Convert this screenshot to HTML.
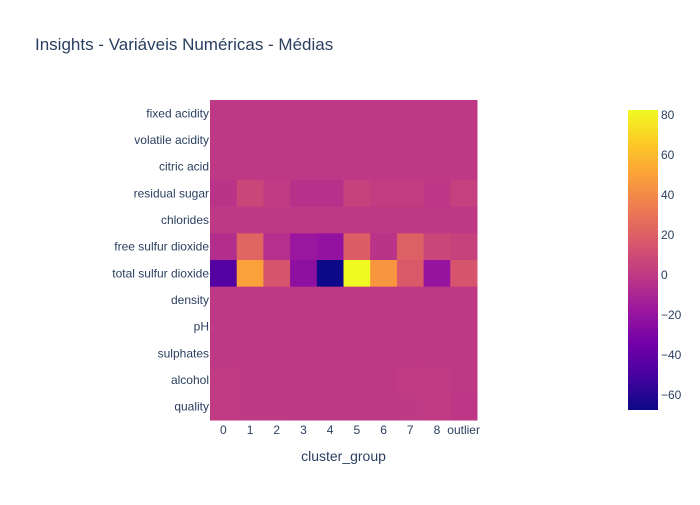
<!DOCTYPE html>
<html><head><meta charset="utf-8"><style>
body{margin:0;background:#fff;font-family:"Liberation Sans",sans-serif}
</style></head><body>
<svg id="c" width="700" height="500" xmlns="http://www.w3.org/2000/svg" style="font-family:'Liberation Sans',sans-serif">
<text x="35" y="50" font-size="17" fill="#2a3f5f">Insights - Variáveis Numéricas - Médias</text>
<text x="343.5" y="461" font-size="14" fill="#2a3f5f" text-anchor="middle">cluster_group</text>
<g id="cells"></g><g id="ylab"></g><g id="xlab"></g>
<defs><linearGradient id="grad" x1="0" y1="1" x2="0" y2="0"></linearGradient></defs>
<rect x="628" y="110" width="30" height="300" fill="url(#grad)"/>
<g id="cbt"></g>
</svg>
<script>
const rows=["fixed acidity","volatile acidity","citric acid","residual sugar","chlorides","free sulfur dioxide","total sulfur dioxide","density","pH","sulphates","alcohol","quality"];
const cols=["0","1","2","3","4","5","6","7","8","outlier"];
const values=[
[0,0,0,0,0,0,0,0,0,0],
[0,0,0,0,0,0,0,0,0,0],
[0,0,0,0,0,0,0,0,0,0],
[-3,7,1,-4,-4,5,2,2,-1,4],
[0,0,0,0,0,0,0,0,0,0],
[-6,22,-5,-18,-21,19,-3,20,7,5],
[-45,50,15,-23,-67.5,82.5,45,17,-20,15],
[0,0,0,0,0,0,0,0,0,0],
[0,0,0,0,0,0,0,0,0,0],
[0,0,0,0,0,0,0,0,0,0],
[1,0.5,0,0.5,0.5,0,0,1,1,0],
[1,0.5,0.5,0,0,0,0,0.5,1,-1]];
const cbTicks=[80,60,40,20,0,-20,-40,-60];
const zmin=-67.5,zmax=82.5;
const plasma=["#0d0887","#46039f","#7201a8","#9c179e","#bd3786","#d8576b","#ed7953","#fb9f3a","#fdca26","#f0f921"];
function hex(h){return [1,3,5].map(i=>parseInt(h.substr(i,2),16));}
function color(v){let t=(v-zmin)/(zmax-zmin);t=Math.max(0,Math.min(1,t))*(plasma.length-1);let i=Math.min(Math.floor(t),plasma.length-2),f=t-i;const a=hex(plasma[i]),b=hex(plasma[i+1]);return `rgb(${a.map((x,k)=>Math.round(x+(b[k]-x)*f)).join(',')})`;}
const X0=210,X1=477,Y0=100,Y1=420;
const cw=(X1-X0)/cols.length,rh=(Y1-Y0)/rows.length;
const xs=i=>X0+i*cw, ys=j=>Y0+j*rh;
const NS="http://www.w3.org/2000/svg";
const cells=document.getElementById('cells');
rows.forEach((r,j)=>cols.forEach((c,i)=>{const e=document.createElementNS(NS,'rect');
e.setAttribute('x',xs(i));e.setAttribute('y',ys(j));e.setAttribute('width',cw+0.5);e.setAttribute('height',rh+0.5);e.setAttribute('fill',color(values[j][i]));


cells.appendChild(e);}));
const yl=document.getElementById('ylab');
rows.forEach((r,j)=>{const t=document.createElementNS(NS,'text');t.setAttribute('x',209);t.setAttribute('y',ys(j)+rh/2+4);t.setAttribute('text-anchor','end');t.setAttribute('font-size','12');t.setAttribute('fill','#2a3f5f');t.textContent=r;


yl.appendChild(t);});
const xl=document.getElementById('xlab');
cols.forEach((c,i)=>{const t=document.createElementNS(NS,'text');t.setAttribute('x',xs(i)+cw/2);t.setAttribute('y',434);t.setAttribute('text-anchor','middle');t.setAttribute('font-size','12');t.setAttribute('fill','#2a3f5f');t.textContent=c;


xl.appendChild(t);});
const g=document.getElementById('grad');
plasma.forEach((p,k)=>{const s=document.createElementNS(NS,'stop');s.setAttribute('offset',k/(plasma.length-1));s.setAttribute('stop-color',p);g.appendChild(s);});
const cb=document.getElementById('cbt');
cbTicks.forEach(v=>{const y=410-(v-zmin)/(zmax-zmin)*300;const t=document.createElementNS(NS,'text');t.setAttribute('x',661);t.setAttribute('y',y+4);t.setAttribute('font-size','12');t.setAttribute('fill','#2a3f5f');t.textContent=v<0?'\u2212'+(-v):String(v);


cb.appendChild(t);});
</script>
</body></html>
